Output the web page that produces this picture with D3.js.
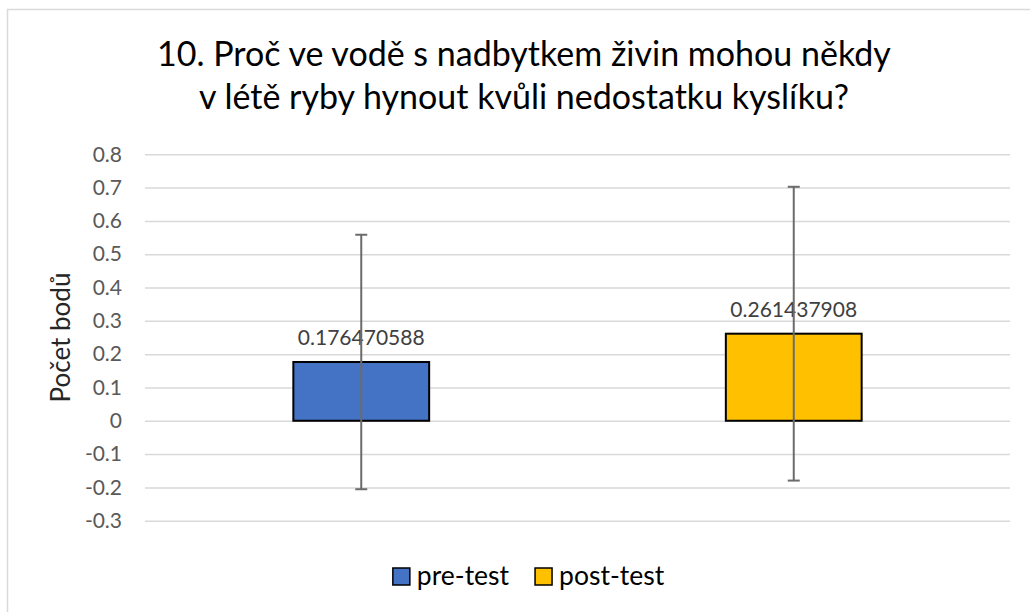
<!DOCTYPE html>
<html>
<head>
<meta charset="utf-8">
<script src="https://cdn.jsdelivr.net/npm/d3@7"></script>
<style>
  html, body { margin: 0; padding: 0; background: #fff; }
  svg { display: block; font-family: Lato, "Open Sans", sans-serif; }
</style>
</head>
<body>
<svg id="chart" width="1030" height="612"></svg>
<script>
// data
const categories = ["pre-test", "post-test"];
const means = [0.176470588, 0.261437908];
const errors = [0.382, 0.441];
const colors = ["#4472C4", "#FFC000"];
const yTicks = [-0.3, -0.2, -0.1, 0, 0.1, 0.2, 0.3, 0.4, 0.5, 0.6, 0.7, 0.8];
const titleLines = ["10. Proč ve vodě s nadbytkem živin mohou někdy",
                    "v létě ryby hynout kvůli nedostatku kyslíku?"];
const yLabel = "Počet bodů";

const svg = d3.select("#chart");

// chart area border (right and bottom edges fall outside the picture)
svg.append("rect")
  .attr("x", 7.5).attr("y", 9.5)
  .attr("width", 1060).attr("height", 640)
  .attr("fill", "#fff")
  .attr("stroke", "#d9d9d9")
  .attr("stroke-width", 1.5);

const plot = { left: 145, right: 1010, top: 154.3, bottom: 520.7 };

const x = d3.scaleBand()
  .domain(categories)
  .range([plot.left, plot.right])
  .paddingInner(0.686)
  .paddingOuter(0.343);

const y = d3.scaleLinear()
  .domain([-0.3, 0.8])
  .range([plot.bottom, plot.top]);

// title
svg.append("g").selectAll("text")
  .data(titleLines)
  .join("text")
  .attr("x", 524)
  .attr("y", (d, i) => 66 + i * 43)
  .attr("text-anchor", "middle")
  .attr("font-size", 34)
  .attr("fill", "#000")
  .text(d => d);

// gridlines + tick labels (plain hyphen for negatives, like the original)
const yAxis = d3.axisLeft(y)
  .tickValues(yTicks)
  .tickSize(-(plot.right - plot.left))
  .tickPadding(23)
  .tickFormat(d => String(+d.toFixed(1)));

const ag = svg.append("g")
  .attr("transform", `translate(${plot.left},0)`)
  .call(yAxis);
ag.select(".domain").remove();
ag.selectAll(".tick line").attr("stroke", "#d9d9d9").attr("stroke-width", 1.5);
ag.selectAll(".tick text")
  .attr("fill", "#595959")
  .attr("font-size", 21)
  .attr("font-family", "Lato, sans-serif");

// y axis title
svg.append("text")
  .attr("transform", `translate(70,${(plot.top + plot.bottom) / 2}) rotate(-90)`)
  .attr("text-anchor", "middle")
  .attr("font-size", 26)
  .attr("fill", "#262626")
  .text(yLabel);

// bars
svg.append("g").selectAll("rect")
  .data(categories)
  .join("rect")
  .attr("x", d => x(d))
  .attr("width", x.bandwidth())
  .attr("y", (d, i) => y(Math.max(0, means[i])))
  .attr("height", (d, i) => Math.abs(y(means[i]) - y(0)))
  .attr("fill", (d, i) => colors[i])
  .attr("stroke", "#000")
  .attr("stroke-width", 2);

// data labels
svg.append("g").selectAll("text")
  .data(categories)
  .join("text")
  .attr("x", d => x(d) + x.bandwidth() / 2)
  .attr("y", (d, i) => y(means[i]) - 17)
  .attr("text-anchor", "middle")
  .attr("font-size", 21)
  .attr("fill", "#404040")
  .text((d, i) => String(means[i]));

// error bars
const eb = svg.append("g")
  .attr("stroke", "#6b6b6b")
  .attr("stroke-width", 2)
  .selectAll("g")
  .data(categories)
  .join("g")
  .attr("transform", d => `translate(${x(d) + x.bandwidth() / 2},0)`);
eb.append("line")
  .attr("y1", (d, i) => y(means[i] + errors[i]))
  .attr("y2", (d, i) => y(means[i] - errors[i]));
eb.append("line")
  .attr("x1", -6).attr("x2", 6)
  .attr("y1", (d, i) => y(means[i] + errors[i]))
  .attr("y2", (d, i) => y(means[i] + errors[i]));
eb.append("line")
  .attr("x1", -6).attr("x2", 6)
  .attr("y1", (d, i) => y(means[i] - errors[i]))
  .attr("y2", (d, i) => y(means[i] - errors[i]));

// legend, centred under the chart
const legend = svg.append("g");
const items = legend.selectAll("g")
  .data(categories)
  .join("g");
items.append("rect")
  .attr("width", 17).attr("height", 17)
  .attr("y", 568)
  .attr("fill", (d, i) => colors[i])
  .attr("stroke", "#000")
  .attr("stroke-width", 1.5);
items.append("text")
  .attr("x", 24)
  .attr("y", 585)
  .attr("font-size", 26.5)
  .attr("fill", "#000")
  .text(d => d);

let offset = 0;
const widths = [];
items.each(function () {
  widths.push(24 + d3.select(this).select("text").node().getComputedTextLength());
});
const gap = 26;
const total = d3.sum(widths) + gap * (widths.length - 1);
let start = 528.5 - total / 2;
items.attr("transform", (d, i) => {
  const tx = start + offset;
  offset += widths[i] + gap;
  return `translate(${tx},0)`;
});
</script>
</body>
</html>
